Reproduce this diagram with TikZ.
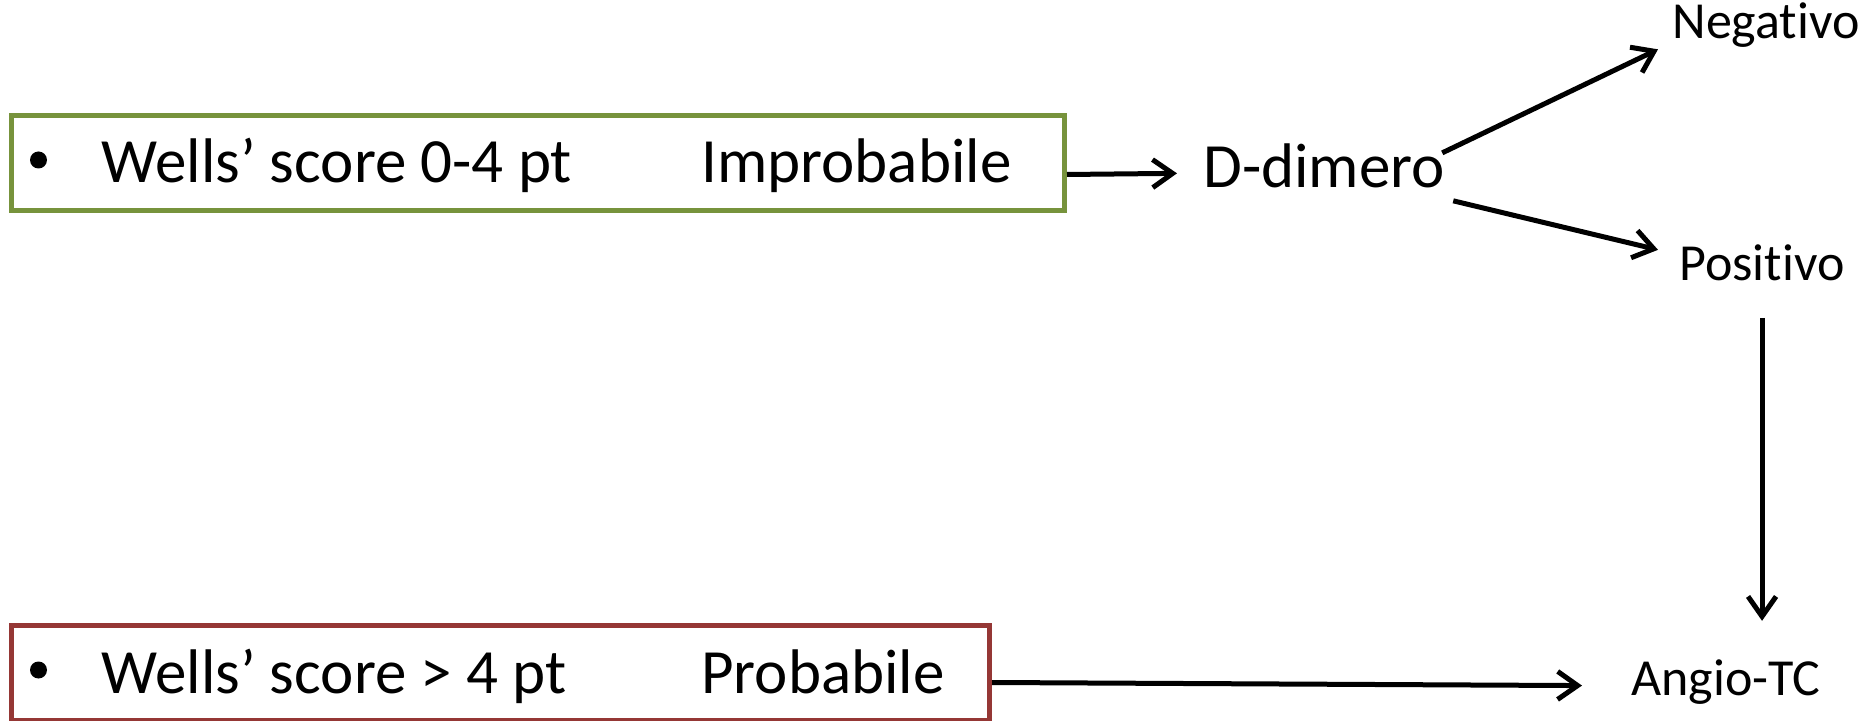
\documentclass[tikz,border=0pt]{standalone}
\usepackage{fontspec}
\setmainfont[Ligatures=NoCommon]{Carlito}
\usetikzlibrary{arrows.meta,calc}

\definecolor{boxgreen}{RGB}{119,147,60}
\definecolor{boxred}{RGB}{149,55,53}

\begin{document}
\begin{tikzpicture}[x=0.5pt,y=-0.5pt,
  bigtext/.style={inner sep=0pt, anchor=base west, font=\fontsize{31.5}{38}\selectfont},
  smalltext/.style={inner sep=0pt, anchor=base west, font=\fontsize{26}{31}\selectfont},
  bulletmark/.style={circle, fill=black, inner sep=0pt, minimum size=8.5pt},
  scorebox/.style={draw, line width=2.5pt, inner sep=0pt, anchor=north west,
    minimum height=47.5pt},
  arr/.style={line width=2.5pt,
    -{Straight Barb[length=10pt,width=14pt,line width=2.5pt]}}
]
\useasboundingbox (0,0) rectangle (1870,721);

% score boxes
\node[scorebox, boxgreen, minimum width=526.5pt] (greenbox) at (9,113) {};
\node[scorebox, boxred, minimum width=489pt] (redbox) at (9,623) {};

% box contents
\node[bulletmark] (b1) at (38.5,160) {};
\node[bigtext] (wlow) at (101,183) {Wells’ score 0-4 pt};
\node[bigtext] (improb) at (701,183) {Improbabile};
\node[bulletmark] (b2) at (38.5,670) {};
\node[bigtext] (whigh) at (101,693) {Wells’ score > 4 pt};
\node[bigtext] (prob) at (701,693) {Probabile};

% outcomes
\node[bigtext] (ddimer) at (1203,188) {D-dimero};
\node[smalltext] (neg) at (1672,39) {Negativo};
\node[smalltext] (pos) at (1679,281) {Positivo};
\node[smalltext] (angio) at (1631,696) {Angio-TC};

% connectors
\draw[arr] ($(greenbox.east)+(0,11.5)$) -- ($(ddimer.west)+(-26,7)$);
\draw[arr] ($(ddimer.north east)+(-3,9)$) -- ($(neg.south west)+(-14,1)$);
\draw[arr] ($(ddimer.south east)+(8,12)$) -- ($(pos.north west)+(-21,5)$);
\draw[arr] ($(pos.south)+(0,36)$) -- ($(pos.south |- angio.north)+(0,-39)$);
\draw[arr] ($(redbox.east)+(0,9.5)$) -- ($(angio.west)+(-49,3)$);
\end{tikzpicture}
\end{document}
